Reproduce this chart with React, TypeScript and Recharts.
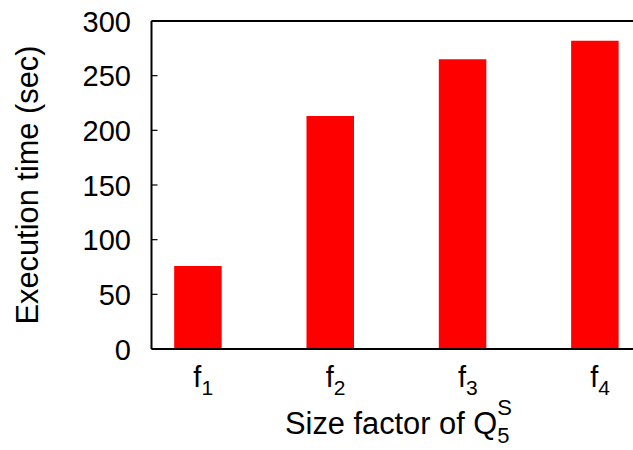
import React from "react";
import { BarChart, Bar, XAxis, YAxis } from "recharts";

const categories = ["1", "2", "3", "4"];
const executionTimes = [76, 213, 265, 282];
const yTicks = [0, 50, 100, 150, 200, 250, 300];

const data = categories.map((c, i) => ({ idx: i, sub: c, value: executionTimes[i] }));

const FONT = "'Liberation Sans', Arial, Helvetica, sans-serif";
const FS = 29;
const LFS = 30.8;

const YTick = (props: any) => {
  const { y, payload } = props;
  return (
    <text x={131} y={y + 10.5} textAnchor="end" fontFamily={FONT} fontSize={FS} fill="#000">
      {payload.value}
    </text>
  );
};

const XTick = (props: any) => {
  const { x, payload } = props;
  const sub = categories[payload.value];
  return (
    <text x={x - 5} y={386.7} textAnchor="start" fontFamily={FONT} fontSize={FS} fill="#000">
      <tspan>f</tspan>
      <tspan fontSize={21} dy={8}>{sub}</tspan>
    </text>
  );
};

const XLabel = (props: any) => {
  const { viewBox } = props;
  const cx = viewBox.x + viewBox.width / 2;
  const qEnd = cx + 105;
  return (
    <g fontFamily={FONT} fill="#000">
      <text x={qEnd} y={434} textAnchor="end" fontSize={LFS}>Size factor of Q</text>
      <text x={qEnd} y={415} textAnchor="start" fontSize={22}>S</text>
      <text x={qEnd} y={443} textAnchor="start" fontSize={22}>5</text>
    </g>
  );
};

const YLabel = (props: any) => {
  const { viewBox } = props;
  const cy = viewBox.y + viewBox.height / 2;
  const lx = 38;
  return (
    <text
      x={lx}
      y={cy}
      transform={`rotate(-90, ${lx}, ${cy})`}
      textAnchor="middle"
      fontFamily={FONT}
      fontSize={LFS}
      fill="#000"
    >
      Execution time (sec)
    </text>
  );
};

export default function App() {
  return (
    <div style={{ position: "absolute", left: 0, top: 0, background: "#fff" }}>
      <BarChart
        width={633}
        height={450}
        data={data}
        margin={{ top: 20, right: 0, left: 0, bottom: 0 }}
      >
        <XAxis
          xAxisId="bottom"
          dataKey="idx"
          type="number"
          domain={[-0.354, 3.285]}
          allowDataOverflow
          ticks={[0, 1, 2, 3]}
          height={101}
          tickLine={false}
          tickMargin={0}
          tick={<XTick />}
          axisLine={{ stroke: "#000", strokeWidth: 2 }}
          interval={0}
          label={<XLabel />}
        />
        <XAxis
          xAxisId="top"
          dataKey="idx"
          type="number"
          orientation="top"
          domain={[-0.354, 3.285]}
          allowDataOverflow
          ticks={[0, 1, 2, 3]}
          height={1}
          tick={false}
          tickSize={-6}
          tickLine={{ stroke: "#000", strokeWidth: 1.5 }}
          axisLine={{ stroke: "#000", strokeWidth: 2 }}
          interval={0}
        />
        <YAxis
          type="number"
          domain={[0, 300]}
          ticks={yTicks}
          width={151.5}
          interval={0}
          tickSize={-6}
          tickMargin={26.5}
          tick={<YTick />}
          tickLine={{ stroke: "#000", strokeWidth: 1.2 }}
          axisLine={{ stroke: "#000", strokeWidth: 2 }}
          label={<YLabel />}
        />
        <Bar
          xAxisId="bottom"
          dataKey="value"
          fill="#ff0000"
          barSize={47.5}
          isAnimationActive={false}
        />
      </BarChart>
    </div>
  );
}
